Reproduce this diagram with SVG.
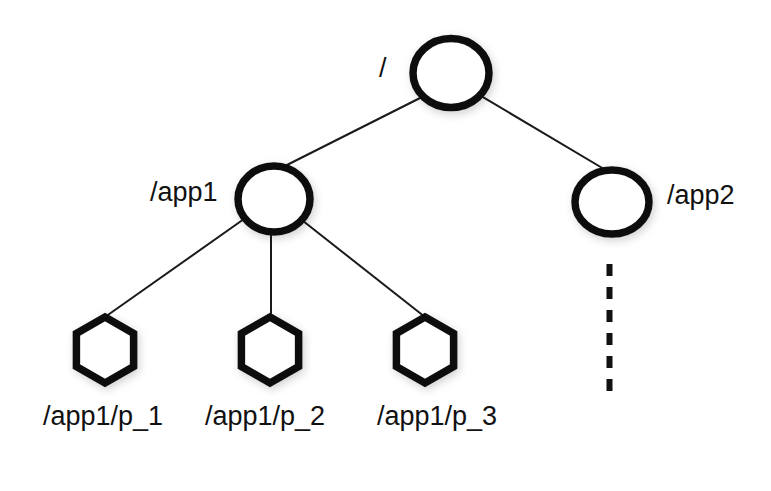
<svg xmlns="http://www.w3.org/2000/svg" width="771" height="491" viewBox="0 0 771 491">
  <defs>
    <filter id="sh" x="-30%" y="-30%" width="160%" height="160%">
      <feDropShadow dx="2" dy="3" stdDeviation="4" flood-color="#000" flood-opacity="0.18"/>
    </filter>
    <style>
      .edge { stroke: #1a1a1a; stroke-width: 2; fill: none; }
      .dots { stroke: #111; stroke-width: 6; stroke-dasharray: 12 11; fill: none; }
      .node { fill: #fff; stroke: #111; stroke-width: 7.5; stroke-linejoin: miter; filter: url(#sh); }
      .lbl { font-family: "Liberation Sans", Arial, Helvetica, sans-serif; font-size: 27px; fill: #111; }
    </style>
  </defs>
  <rect width="771" height="491" fill="#fff"/>
  <g id="connectors">
    <line class="edge" x1="425" y1="95.5" x2="279" y2="169"/>
    <line class="edge" x1="475" y1="92.4" x2="609" y2="172"/>
    <line class="edge" x1="250" y1="214.8" x2="105" y2="317"/>
    <line class="edge" x1="271" y1="215" x2="271" y2="317"/>
    <line class="edge" x1="298" y1="217" x2="425" y2="317"/>
    <line class="dots" x1="609.5" y1="264" x2="609.5" y2="391"/>
  </g>
  <g id="root">
    <ellipse class="node" cx="451" cy="73" rx="38" ry="34.5"/>
    <text class="lbl" x="379" y="77">/</text>
  </g>
  <g id="app1">
    <ellipse class="node" cx="274" cy="199" rx="36" ry="33"/>
    <text class="lbl" x="150" y="201">/app1</text>
  </g>
  <g id="app2">
    <ellipse class="node" cx="612" cy="202" rx="37" ry="32"/>
    <text class="lbl" x="667" y="204">/app2</text>
  </g>
  <g id="p1">
    <polygon class="node" points="105,317 133.6,333.5 133.6,366.5 105,383 76.4,366.5 76.4,333.5"/>
    <text class="lbl" x="43" y="425">/app1/p_1</text>
  </g>
  <g id="p2">
    <polygon class="node" points="270,317 298.6,333.5 298.6,366.5 270,383 241.4,366.5 241.4,333.5"/>
    <text class="lbl" x="205" y="425">/app1/p_2</text>
  </g>
  <g id="p3">
    <polygon class="node" points="425,317 453.6,333.5 453.6,366.5 425,383 396.4,366.5 396.4,333.5"/>
    <text class="lbl" x="377" y="425">/app1/p_3</text>
  </g>
</svg>
